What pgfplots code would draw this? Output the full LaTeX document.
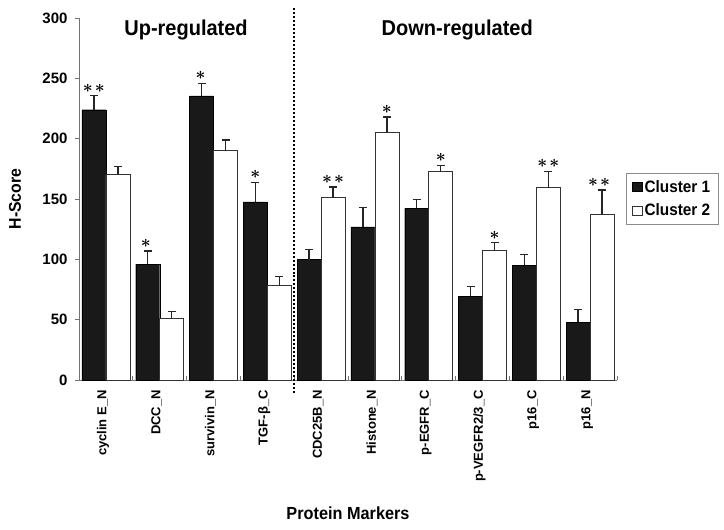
\documentclass[border=0pt]{standalone}
\usepackage{fontspec}
\setmainfont{Liberation Sans}
\newfontfamily\condfont{Liberation Sans}[FakeStretch=0.93]
\usepackage{pgfplots}
\pgfplotsset{compat=1.18}
\tikzset{sigstar/.style={anchor=base, inner sep=0pt, font=\fontsize{17bp}{19bp}\selectfont\boldmath}}
\begin{document}
\begin{tikzpicture}
\begin{axis}[
  name=ax,
  scale only axis,
  width=538bp, height=362bp,
  ymin=0, ymax=300,
  xmin=-0.5, xmax=9.5,
  ybar=0pt, bar width=24bp,
  axis x line*=bottom, axis y line*=left,
  axis line style={draw=black!55, line width=0.8bp},
  ytick={0,50,...,300},
  xtick={0,...,9},
  xticklabels={cyclin E\_N,DCC\_N,survivin\_N,TGF-β\_C,CDC25B\_N,Histone\_N,p-EGFR\_C,p-VEGFR2/3\_C,p16\_C,p16\_N},
  minor xtick={-0.5,0.5,...,9.5},
  x tick style={draw=none},
  minor x tick style={draw=black!55, line width=0.8bp, yshift=4bp},
  minor tick length=4bp,
  y tick style={draw=black!55, line width=0.8bp},
  major tick length=4bp,
  tick align=outside,
  /pgf/number format/assume math mode=true,
  yticklabel style={font=\bfseries\fontsize{15bp}{17bp}\selectfont, xshift=-4bp},
  xticklabel style={font=\bfseries\fontsize{13bp}{15bp}\selectfont, rotate=90, anchor=east, inner sep=0pt, xshift=-6bp, yshift=3bp},
  ylabel={H-Score},
  ylabel style={at={(axis description cs:-0.119,0.5)}, anchor=center, font=\condfont\bfseries\fontsize{17bp}{19bp}\selectfont},
  xlabel={Protein Markers},
  xlabel style={at={(axis description cs:0.5,-0.367)}, anchor=center, font=\condfont\bfseries\fontsize{17.5bp}{20bp}\selectfont},
  clip=false,
  legend style={at={(rel axis cs:1.0167,0.572)}, anchor=north west, draw=black!45, line width=0.8bp,
    font=\condfont\bfseries\fontsize{16.5bp}{18bp}\selectfont, inner xsep=6bp, inner ysep=5bp, row sep=6bp},
  area legend,
  legend image post style={xscale=0.55, yscale=1.6},
  error bars/y dir=plus, error bars/y explicit,
  error bars/error bar style={line width=1.3bp, black!85},
  error bars/error mark options={rotate=90, mark size=4bp, line width=1.3bp, black!85},
]
\addplot[fill=black!90, draw=black] table[x=x, y=y, y error=e] {
x y e
0 224 11.6
1 96 11
2 235.5 10.5
3 147.6 16
4 99.8 8.6
5 127 16
6 142.3 7.5
7 69.6 8
8 95.3 8.7
9 47.8 10.5
};
\addplot[fill=white, draw=black!80, line width=0.8bp] table[x=x, y=y, y error=e] {
x y e
0 170 7
1 51 5.6
2 190 9
3 78 8
4 151 9
5 205 13
6 172.7 5.3
7 107.7 6.1
8 159.4 13.6
9 137 20.5
};
\legend{Cluster 1, Cluster 2}
\draw[line width=2bp, dotted, black] (axis cs:3.5,-11) -- (axis cs:3.5,308);
\node[font=\condfont\bfseries\fontsize{21.5bp}{23bp}\selectfont] at (axis cs:1.49,290) {Up-regulated};
\node[font=\condfont\bfseries\fontsize{21.5bp}{23bp}\selectfont] at (axis cs:6.53,290) {Down-regulated};
\node[sigstar, xshift=-12bp] at (axis cs:0,238.5) {$\ast\mkern2mu\ast$};
\node[sigstar, xshift=-14bp] at (axis cs:1,109.8) {$\ast$};
\node[sigstar, xshift=-13bp] at (axis cs:2,248.8) {$\ast$};
\node[sigstar, xshift=-12bp] at (axis cs:3,166.6) {$\ast$};
\node[sigstar, xshift=12bp] at (axis cs:4,163) {$\ast\mkern2mu\ast$};
\node[sigstar, xshift=12bp] at (axis cs:5,221) {$\ast$};
\node[sigstar, xshift=12bp] at (axis cs:6,181) {$\ast$};
\node[sigstar, xshift=12bp] at (axis cs:7,116.8) {$\ast$};
\node[sigstar, xshift=12bp] at (axis cs:8,176) {$\ast\mkern2mu\ast$};
\node[sigstar, xshift=9bp] at (axis cs:9,160.5) {$\ast\mkern2mu\ast$};
\end{axis}
\pgfresetboundingbox
\path ([shift={(-79bp,-149bp)}]ax.south west) rectangle ([shift={(107bp,18bp)}]ax.north east);
\end{tikzpicture}
\end{document}
